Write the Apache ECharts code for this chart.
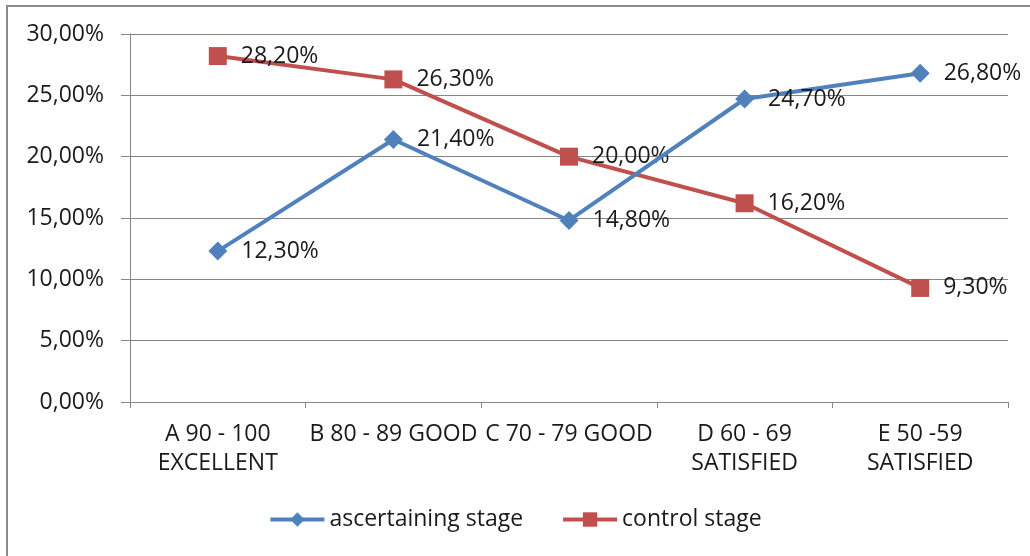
<!DOCTYPE html>
<html><head><meta charset="utf-8">
<script src="https://cdn.jsdelivr.net/npm/echarts@6/dist/echarts.min.js"></script>
<style>html,body{margin:0;padding:0;background:#fff}#c{width:1030px;height:556px}</style>
</head><body><div id="c"></div>
<script>
const categories = ["A 90 - 100\nEXCELLENT", "B 80 - 89 GOOD", "C 70 - 79 GOOD", "D 60 - 69\nSATISFIED", "E 50 -59\nSATISFIED"];
const ascertaining = [12.3, 21.4, 14.8, 24.7, 26.8];
const control = [28.2, 26.3, 20.0, 16.2, 9.3];
const seriesNames = ["ascertaining stage", "control stage"];

const FONT = "Open Sans";
const FS = 23;
const fmt = v => v.toFixed(2).replace('.', ',') + '%';
const chart = echarts.init(document.getElementById('c'), null, {renderer: 'canvas'});
const labelCfg = {
  show: true, position: 'right', distance: 14,
  color: '#1a1a1a', fontFamily: FONT, fontSize: FS,
  formatter: p => fmt(p.value)
};
chart.setOption({
  animation: false,
  textStyle: {fontFamily: FONT},
  graphic: [{
    type: 'polyline', silent: true,
    shape: {points: [[7, 556], [7, 6], [1030, 6]]},
    style: {stroke: '#8a8a8a', lineWidth: 2, fill: null}
  }],
  grid: {left: 130, right: 22, top: 34, bottom: 154},
  legend: {
    bottom: 20, left: 'center', itemGap: 38, itemWidth: 54, itemHeight: 18,
    lineStyle: {width: 4},
    textStyle: {fontFamily: FONT, fontSize: FS, color: '#1a1a1a'},
    data: seriesNames
  },
  xAxis: {
    type: 'category', data: categories, boundaryGap: true,
    axisLine: {lineStyle: {color: '#868686', width: 1}},
    axisTick: {show: true, length: 6, alignWithLabel: false, lineStyle: {color: '#868686'}},
    axisLabel: {interval: 0, color: '#1a1a1a', fontFamily: FONT, fontSize: FS, lineHeight: 29, margin: 18}
  },
  yAxis: {
    type: 'value', min: 0, max: 30, interval: 5,
    axisLine: {show: true, lineStyle: {color: '#868686', width: 1}},
    axisTick: {show: true, length: 9, lineStyle: {color: '#868686'}},
    splitLine: {lineStyle: {color: '#868686', width: 1}},
    axisLabel: {color: '#1a1a1a', fontFamily: FONT, fontSize: FS, margin: 26, formatter: v => fmt(v)}
  },
  series: [
    {
      name: seriesNames[0], type: 'line', data: ascertaining,
      symbol: 'diamond', symbolSize: 19,
      lineStyle: {color: '#4F81BD', width: 4},
      itemStyle: {color: '#4F81BD'},
      label: labelCfg, z: 3
    },
    {
      name: seriesNames[1], type: 'line', data: control,
      symbol: 'rect', symbolSize: 18,
      lineStyle: {color: '#C0504D', width: 4},
      itemStyle: {color: '#C0504D'},
      label: labelCfg, z: 2
    }
  ]
});
</script></body></html>
